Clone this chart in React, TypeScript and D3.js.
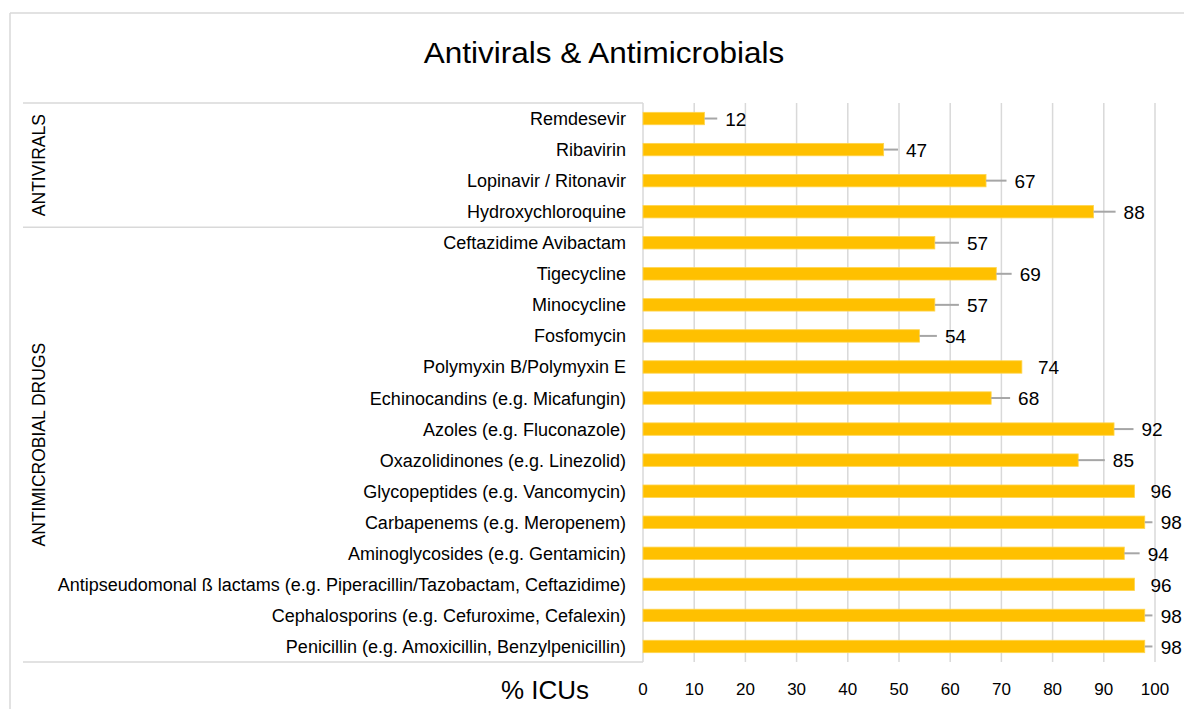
import React from "react";
import * as d3 from "d3";

const title = "Antivirals & Antimicrobials";
const xAxisTitle = "% ICUs";

const categories = [
  "Remdesevir",
  "Ribavirin",
  "Lopinavir / Ritonavir",
  "Hydroxychloroquine",
  "Ceftazidime Avibactam",
  "Tigecycline",
  "Minocycline",
  "Fosfomycin",
  "Polymyxin B/Polymyxin E",
  "Echinocandins (e.g. Micafungin)",
  "Azoles (e.g. Fluconazole)",
  "Oxazolidinones (e.g. Linezolid)",
  "Glycopeptides (e.g. Vancomycin)",
  "Carbapenems (e.g. Meropenem)",
  "Aminoglycosides (e.g. Gentamicin)",
  "Antipseudomonal ß lactams (e.g. Piperacillin/Tazobactam, Ceftazidime)",
  "Cephalosporins (e.g. Cefuroxime, Cefalexin)",
  "Penicillin (e.g. Amoxicillin, Benzylpenicillin)",
];

const values = [12, 47, 67, 88, 57, 69, 57, 54, 74, 68, 92, 85, 96, 98, 94, 96, 98, 98];
// upper error (whisker length beyond the bar end)
const errors = [2.5, 2.8, 4, 4.3, 4.7, 3, 4.7, 3.4, 0, 3.7, 3.8, 5.2, 0, 1.5, 3, 0, 1.5, 1.5];

const groups = [
  { name: "ANTIVIRALS", first: 0, last: 3 },
  { name: "ANTIMICROBIAL DRUGS", first: 4, last: 17 },
];

const xTicks = [0, 10, 20, 30, 40, 50, 60, 70, 80, 90, 100];

const W = 1184;
const H = 709;
const plotTop = 103;
const plotBottom = 662;
const x0 = 643;
const x1 = 1155;
const boxLeft = 23;

const font = "'Liberation Sans', Arial, sans-serif";
const grid = "#d9d9d9";

export default function App() {
  const x = d3.scaleLinear().domain([0, 100]).range([x0, x1]);
  const y = d3
    .scaleBand<string>()
    .domain(categories)
    .range([plotTop, plotBottom])
    .paddingInner(0.6)
    .paddingOuter(0.3);
  const bandStart = (i: number) => plotTop + i * ((plotBottom - plotTop) / categories.length);
  const cy = (c: string) => (y(c) as number) + y.bandwidth() / 2;

  return (
    <svg
      width={W}
      height={H}
      style={{ position: "absolute", left: 0, top: 0, background: "#fff" }}
    >
      {/* outer frame */}
      <line x1={10} y1={13} x2={W} y2={13} stroke={grid} strokeWidth={1.5} />
      <line x1={10} y1={13} x2={10} y2={H} stroke={grid} strokeWidth={1.5} />

      <text
        transform="translate(604,63) scale(1.05,1)"
        textAnchor="middle"
        fontFamily={font}
        fontSize={30}
        fill="#000"
      >
        {title}
      </text>

      {/* gridlines */}
      {xTicks.map((t) => (
        <line
          key={"g" + t}
          x1={x(t)}
          x2={x(t)}
          y1={plotTop}
          y2={plotBottom}
          stroke={grid}
          strokeWidth={1.5}
        />
      ))}

      {/* group box lines */}
      {[0, groups[1].first, categories.length].map((i) => (
        <line
          key={"b" + i}
          x1={boxLeft}
          x2={x0}
          y1={bandStart(i)}
          y2={bandStart(i)}
          stroke={grid}
          strokeWidth={1.5}
        />
      ))}

      {/* group labels */}
      {groups.map((g) => {
        const my = (bandStart(g.first) + bandStart(g.last + 1)) / 2;
        return (
          <text
            key={g.name}
            transform={`translate(45,${my}) rotate(-90)`}
            textAnchor="middle"
            fontFamily={font}
            fontSize={17.5}
            fill="#000"
          >
            {g.name}
          </text>
        );
      })}

      {/* category labels */}
      {categories.map((c) => (
        <text
          key={"l" + c}
          x={626}
          y={cy(c)}
          dy="0.36em"
          textAnchor="end"
          fontFamily={font}
          fontSize={18}
          fill="#000"
        >
          {c}
        </text>
      ))}

      {/* bars */}
      {categories.map((c, i) => (
        <rect
          key={"r" + c}
          x={x(0)}
          y={y(c) as number}
          width={x(values[i]) - x(0)}
          height={y.bandwidth()}
          fill="#FFC000"
          stroke="#FFD54F"
          strokeWidth={0.8}
        />
      ))}

      {/* error whiskers */}
      {categories.map((c, i) =>
        errors[i] > 0 ? (
          <line
            key={"e" + c}
            x1={x(values[i])}
            x2={x(values[i] + errors[i])}
            y1={cy(c)}
            y2={cy(c)}
            stroke="#a6a6a6"
            strokeWidth={2}
          />
        ) : null
      )}

      {/* value labels */}
      {categories.map((c, i) => {
        const lx = Math.max(x(values[i]) + 16, x(values[i] + errors[i]) + 8);
        return (
          <text
            key={"v" + c}
            x={lx}
            y={cy(c)}
            dy="0.38em"
            fontFamily={font}
            fontSize={19}
            fill="#000"
          >
            {values[i]}
          </text>
        );
      })}

      {/* x tick labels */}
      {xTicks.map((t) => (
        <text
          key={"t" + t}
          x={x(t)}
          y={695}
          textAnchor="middle"
          fontFamily={font}
          fontSize={17}
          fill="#000"
        >
          {t}
        </text>
      ))}

      <text
        x={589}
        y={699}
        textAnchor="end"
        fontFamily={font}
        fontSize={26}
        fill="#000"
      >
        {xAxisTitle}
      </text>
    </svg>
  );
}
